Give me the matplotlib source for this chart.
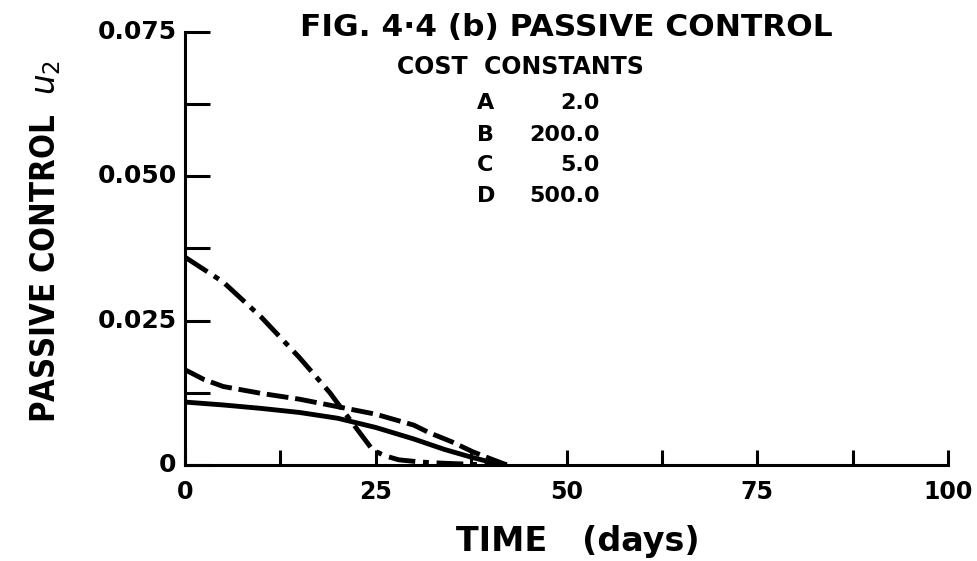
import numpy as np
import matplotlib.pyplot as plt
from matplotlib import font_manager
from matplotlib.ticker import MultipleLocator

# Curves (time in days, passive control u2)
t_solid = [0, 5, 10, 15, 20, 25, 30, 34, 37.4, 40, 42.2]
u_solid = [0.0109, 0.0104, 0.0098, 0.0091, 0.0081, 0.0065, 0.0045, 0.0027, 0.0014, 0.0005, 0.0]

t_dash = [0, 2.5, 5, 10, 15, 20, 25, 30, 32, 35, 37.7, 40, 42.2]
u_dash = [0.0165, 0.0148, 0.0136, 0.0124, 0.0114, 0.0101, 0.0088, 0.0069, 0.0056, 0.0040, 0.0023, 0.0011, 0.0]

t_dashdot = [0, 5, 10, 15, 19, 20, 22.5, 24.6, 26.2, 28, 31, 34, 38, 42.2]
u_dashdot = [0.0360, 0.0317, 0.0256, 0.0186, 0.0125, 0.0107, 0.0063, 0.0026, 0.0016, 0.0009,
             0.0005, 0.0003, 0.0001, 0.0]

cost_names = ['A', 'B', 'C', 'D']
cost_values = ['2.0', '200.0', '5.0', '500.0']

# look for a condensed bold face for the narrow axis label
cond_family = None
for f in font_manager.fontManager.ttflist:
    if ('Condensed' in f.name or 'Narrow' in f.name or f.stretch in ('condensed', 'semi-condensed')):
        cond_family = f.name
        cond_stretch = f.stretch
        break

fig = plt.figure(figsize=(9.77, 5.61), dpi=100)
ax = fig.add_axes([185 / 977, 1 - 465 / 561, (948 - 185) / 977, (465 - 32) / 561])

lw = 3.5
ax.plot(t_solid, u_solid, color='black', lw=lw, solid_capstyle='butt')
ax.plot(t_dash, u_dash, color='black', lw=lw, linestyle=(0, (4.5, 1.4)), dash_capstyle='butt')
ax.plot(t_dashdot, u_dashdot, color='black', lw=lw,
        linestyle=(0, (5.5, 1.6, 1.2, 1.6)), dash_capstyle='butt')

ax.set_xlim(0, 100)
ax.set_ylim(0, 0.075)
ax.xaxis.set_major_locator(MultipleLocator(25))
ax.xaxis.set_minor_locator(MultipleLocator(12.5))
ax.yaxis.set_major_locator(MultipleLocator(0.025))
ax.yaxis.set_minor_locator(MultipleLocator(0.0125))

for s in ['top', 'right']:
    ax.spines[s].set_visible(False)
for s in ['left', 'bottom']:
    ax.spines[s].set_linewidth(2.2)

ax.tick_params(axis='x', which='both', direction='in', length=11, width=2.2)
ax.tick_params(axis='y', which='both', direction='in', length=18, width=2.2)
ax.tick_params(labelleft=False, labelbottom=False)

font = dict(family='DejaVu Sans', fontweight='bold', color='black')

# tick labels as printed on the original (0 instead of 0.000)
for v, lab in zip([0, 0.025, 0.05, 0.075], ['0', '0.025', '0.050', '0.075']):
    ax.text(-0.011, v / 0.075, lab, transform=ax.transAxes, ha='right', va='center',
            fontsize=18, **font)
for v, lab in zip([0, 25, 50, 75, 100], ['0', '25', '50', '75', '100']):
    ax.text(v / 100, -0.062, lab, transform=ax.transAxes, ha='center', va='center',
            fontsize=17, **font)

fig.text(578 / 977, 1 - 542 / 561, 'TIME   (days)', ha='center', va='center', fontsize=24, **font)

ylab = 'PASSIVE CONTROL  $\\mathit{u}_{2}$'
if cond_family is not None:
    fig.text(46 / 977, 1 - 241 / 561, ylab, rotation=90, ha='center', va='center',
             fontsize=23.5, family=cond_family, fontstretch=cond_stretch, fontweight='bold')
else:
    fig.text(46 / 977, 1 - 241 / 561, ylab, rotation=90, ha='center', va='center',
             fontsize=21, **font)

fig.text(566 / 977, 1 - 27 / 561, 'FIG. 4·4 (b) PASSIVE CONTROL', ha='center', va='center',
         fontsize=22.5, **font)
fig.text(520 / 977, 1 - 67 / 561, 'COST  CONSTANTS', ha='center', va='center',
         fontsize=17, **font)
ys = [103, 135, 165, 196]
for name, val, y in zip(cost_names, cost_values, ys):
    fig.text(477 / 977, 1 - y / 561, name, ha='left', va='center', fontsize=16, **font)
    fig.text(600 / 977, 1 - y / 561, val, ha='right', va='center', fontsize=16, **font)

fig.savefig('out.png', dpi=100)
